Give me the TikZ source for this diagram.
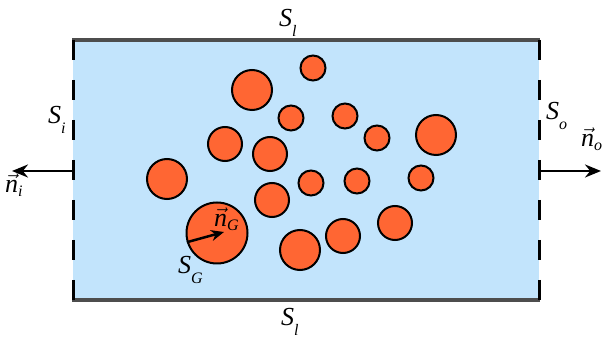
\documentclass[tikz,border=0pt]{standalone}
\usepackage{fontspec}
\setmainfont{Liberation Serif}
\usetikzlibrary{arrows.meta}
\definecolor{fluid}{RGB}{194,228,252}
\definecolor{gas}{RGB}{255,102,51}
\definecolor{wall}{RGB}{77,77,77}
\newcommand{\surf}[2]{\textit{#1}\raisebox{-10pt}{\fontsize{16}{16}\selectfont\textit{#2}}}
\newcommand{\nvec}[1]{$\vec{\textit{n}}$\raisebox{-4pt}{\fontsize{16}{16}\selectfont\textit{#1}}}
\tikzset{
  bubble/.style={circle,draw=black,line width=2pt,fill=gas,inner sep=0pt},
  lbl/.style={inner sep=0pt,anchor=base west,font=\fontsize{26}{30}\selectfont},
  outvec/.style={-{Stealth[length=16pt,width=13pt]},line width=2.5pt},
}
\begin{document}
\begin{tikzpicture}[x=1pt,y=-1pt]
\useasboundingbox (0,0) rectangle (603,347);
% control volume
\fill[fluid] (73,40) rectangle (539,300);
\draw[wall,line width=4pt] (72,40) -- (540,40);
\draw[wall,line width=4pt] (72,300) -- (540,300);
\draw[line width=3pt,dash pattern=on 20pt off 20pt] (73,40) -- (73,300);
\draw[line width=3pt,dash pattern=on 20pt off 20pt] (539,40) -- (539,300);
% bubbles
\node[bubble,minimum size=40pt] (c1) at (252,90) {};
\node[bubble,minimum size=25pt] (c2) at (313,68) {};
\node[bubble,minimum size=25pt] (c3) at (291,118) {};
\node[bubble,minimum size=25pt] (c4) at (345,116) {};
\node[bubble,minimum size=25pt] (c5) at (377,138) {};
\node[bubble,minimum size=40pt] (c6) at (436,135) {};
\node[bubble,minimum size=34pt] (c7) at (225,144) {};
\node[bubble,minimum size=34pt] (c8) at (270,154) {};
\node[bubble,minimum size=40pt] (c9) at (167,179) {};
\node[bubble,minimum size=25pt] (c10) at (311,183) {};
\node[bubble,minimum size=25pt] (c11) at (357,181) {};
\node[bubble,minimum size=25pt] (c12) at (421,178) {};
\node[bubble,minimum size=34pt] (c13) at (272,200) {};
\node[bubble,minimum size=61pt] (c14) at (217,233) {};
\node[bubble,minimum size=40pt] (c15) at (300,250) {};
\node[bubble,minimum size=34pt] (c16) at (343,236) {};
\node[bubble,minimum size=34pt] (c17) at (395,223) {};
% normals
\coordinate (iin) at (73,171);
\coordinate (iout) at (12,171);
\coordinate (oin) at (539,171);
\coordinate (oout) at (601,171);
\coordinate (gtip) at (224,232);
\draw[outvec] (iin) -- (iout);
\draw[outvec] (oin) -- (oout);
\draw[outvec,-{Stealth[length=13pt,width=11pt]}] (c14.197) -- (gtip);
% labels
\node[lbl] (sltop) at (279,27) {\surf{S}{l}};
\node[lbl] (slbot) at (281,326) {\surf{S}{l}};
\node[lbl] (si) at (48,124) {\surf{S}{i}};
\node[lbl] (so) at (546,120) {\surf{S}{o}};
\node[lbl] (sg) at (178,274) {\surf{S}{G}};
\node[lbl] (ni) at (5,193) {\nvec{i}};
\node[lbl] (no) at (581,147) {\nvec{o}};
\node[lbl] (ng) at (214,227) {\nvec{G}};
\end{tikzpicture}
\end{document}
